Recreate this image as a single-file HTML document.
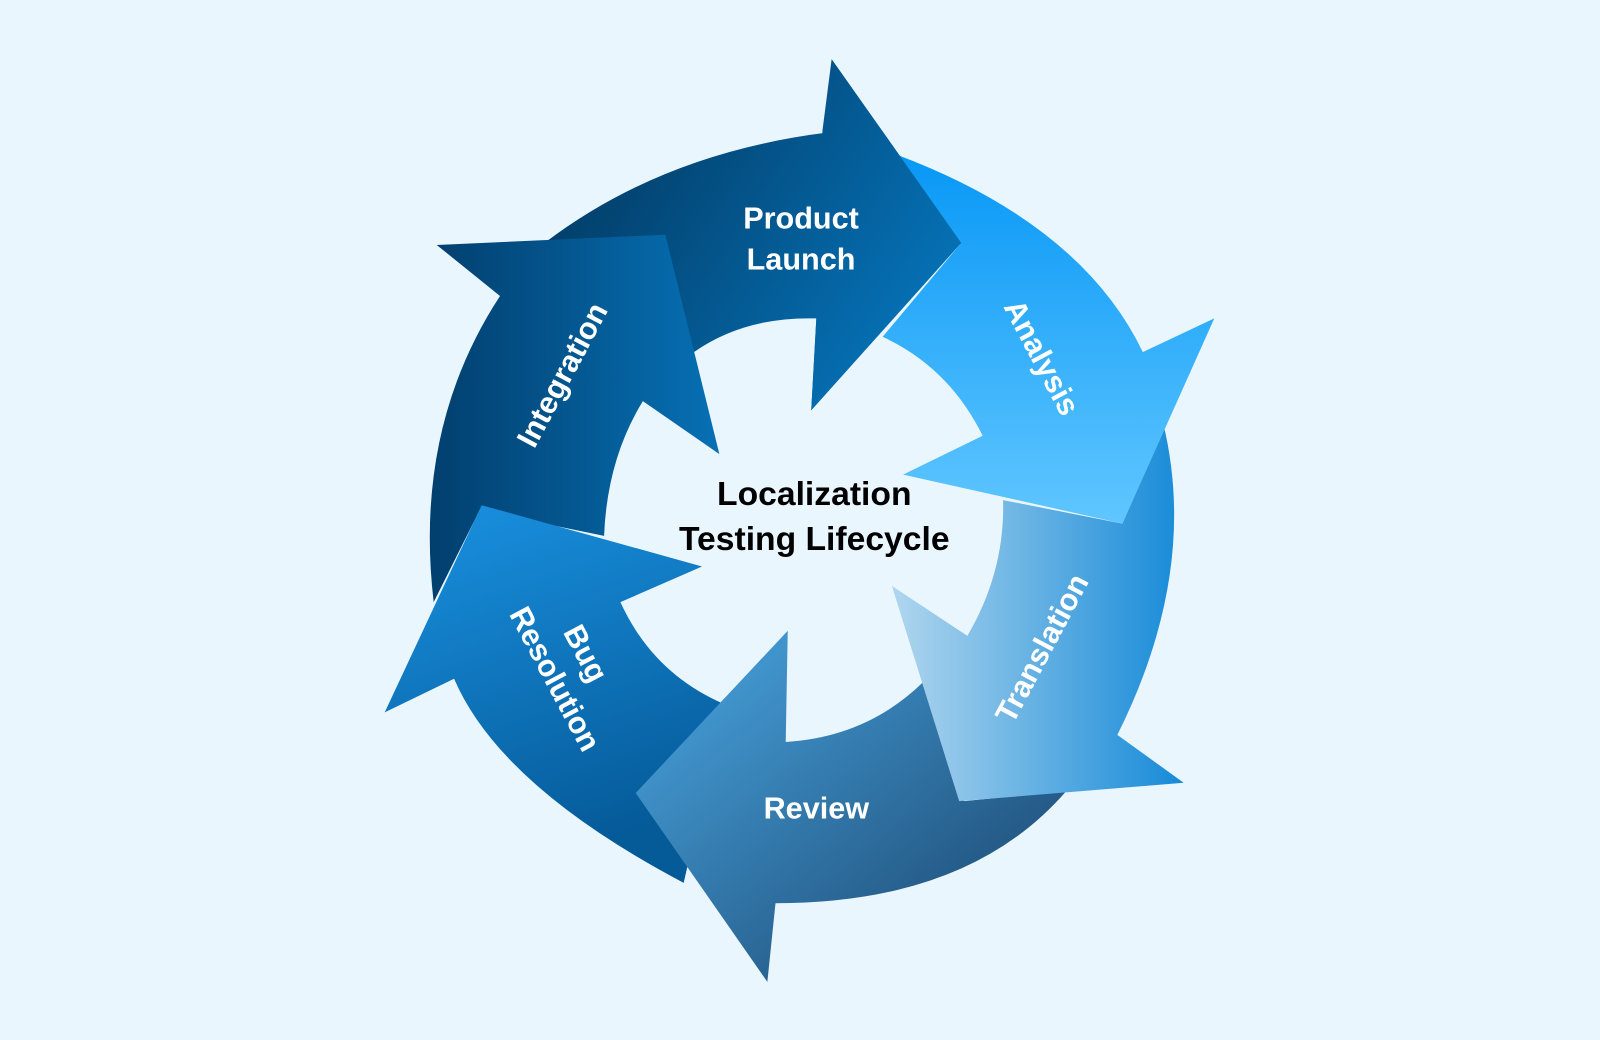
<!DOCTYPE html>
<html><head><meta charset="utf-8"><style>
html,body{margin:0;padding:0;background:#eaf6fe;}
svg{display:block}
text{font-family:"Liberation Sans",sans-serif;font-weight:bold;}
</style></head><body>
<svg width="1600" height="1040" viewBox="0 0 1568 1019" preserveAspectRatio="none">
<defs>
<linearGradient id="gPL" gradientUnits="userSpaceOnUse" x1="560" y1="150" x2="920" y2="380"><stop offset="0" stop-color="#023c66"/><stop offset="1" stop-color="#0678c0"/></linearGradient>
<linearGradient id="gIN" x1="0" y1="0" x2="1" y2="0"><stop offset="0" stop-color="#023f6e"/><stop offset="1" stop-color="#0670b4"/></linearGradient>
<linearGradient id="gBR" x1="0" y1="0" x2="0.3" y2="1"><stop offset="0" stop-color="#1a92e2"/><stop offset="1" stop-color="#055a98"/></linearGradient>
<linearGradient id="gRV" x1="0" y1="0" x2="1" y2="1"><stop offset="0" stop-color="#4aa8e4"/><stop offset="1" stop-color="#173f66"/></linearGradient>
<linearGradient id="gTR" x1="0" y1="0" x2="1" y2="0"><stop offset="0" stop-color="#b0d6ee"/><stop offset="1" stop-color="#168ad8"/></linearGradient>
<linearGradient id="gAN" x1="0" y1="0" x2="0" y2="1"><stop offset="0" stop-color="#0898f6"/><stop offset="1" stop-color="#60c6ff"/></linearGradient>
</defs>
<rect width="1568" height="1019" fill="#eaf6fe"/>
<path d="M535,237 Q650,150 810,130 L815,58 L942,238 L795,402 L800,312 Q730,310 680,345 L650,240 Z" fill="url(#gPL)"/>
<path d="M428,240 L652,230 L705,445 L630,393 Q595,450 592,525 L470,500 L425,590 Q405,420 490,290 Z" fill="url(#gIN)"/>
<path d="M472,495 L688,555 L608,590 Q640,660 710,690 L670,865 Q490,770 445,665 L377,698 Z" fill="url(#gBR)"/>
<path d="M623,777 L772,618 L770,727 Q850,722 905,668 L945,785 L1045,775 Q950,885 760,885 L752,962 Z" fill="url(#gRV)"/>
<path d="M874,574 L948,623 Q985,560 983,490 L1100,513 L1140,415 Q1175,560 1095,720 L1160,767 L940,785 Z" fill="url(#gTR)"/>
<path d="M880,152 Q1060,220 1120,345 L1190,312 L1100,513 L885,465 L963,427 Q930,360 865,330 L942,238 Z" fill="url(#gAN)"/>
<path d="M806,128 L815,58 L942,238 L795,402 L800,312 Z" fill="url(#gPL)"/>
<g fill="#fff" font-size="30" text-anchor="middle">
<text x="785" y="224">Product</text>
<text x="785" y="264">Launch</text>
<text x="800" y="802">Review</text>
<text transform="translate(560,372) rotate(-62)">Integration</text>
<text transform="translate(1012,355) rotate(62)">Analysis</text>
<text transform="translate(1030,640) rotate(-62)">Translation</text>
<text transform="translate(565,645) rotate(62)">Bug</text>
<text transform="translate(535,670) rotate(62)">Resolution</text>
</g>
<g fill="#000" font-size="33" text-anchor="middle">
<text x="798" y="495">Localization</text>
<text x="798" y="539">Testing Lifecycle</text>
</g>
</svg>
</body></html>
